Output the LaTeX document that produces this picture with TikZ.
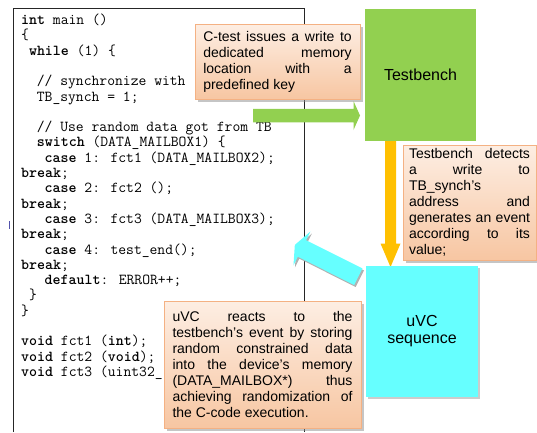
\documentclass[tikz,border=0pt]{standalone}
\usepackage{fontspec}
\usetikzlibrary{shadows}

\newfontfamily\notefont{Liberation Sans}[Ligatures={TeX,NoCommon}]

\definecolor{tbgreen}{RGB}{146,208,80}
\definecolor{uvccyan}{RGB}{102,255,255}
\definecolor{flowgold}{RGB}{255,192,0}
\definecolor{noteline}{RGB}{244,177,131}
\definecolor{notetop}{RGB}{253,238,227}
\definecolor{notebot}{RGB}{247,198,162}

\tolerance=9999
\hbadness=10000

% block arrow: [scope options] fill, tail, angle, length, shaft width, head width, head length
\newcommand\blockarrow[8][]{%
  \begin{scope}[shift={(#3)}, #1, rotate=#4]
    \fill[#2] (0,-#6/2) -- (#5-#8,-#6/2) -- (#5-#8,-#7/2) -- (#5,0)
      -- (#5-#8,#7/2) -- (#5-#8,#6/2) -- (0,#6/2) -- cycle;
  \end{scope}}

\begin{document}
\begin{tikzpicture}[x=1pt, y=-1pt,
    code/.style={font=\ttfamily\fontsize{15.2}{15.3}\selectfont, align=left, inner sep=0pt},
    note/.style={draw=noteline, line width=0.8pt, top color=notetop, bottom color=notebot,
      drop shadow={shadow xshift=2.5pt, shadow yshift=-2.5pt, fill=black!45, opacity=0.5},
      font=\notefont\fontsize{14}{16}\selectfont, align=justify, inner xsep=0pt},
    block/.style={font=\notefont\fontsize{16}{17}\selectfont, align=center, inner sep=0pt}]

  \useasboundingbox (0,0) rectangle (537,432);

  % code window
  \draw[black!85, line width=0.8pt] (13,432) -- (13,8) -- (304,8) -- (304,432);
  \draw[blue!35!gray, line width=0.7pt] (9.3,221) -- (9.3,229);

  % base of the node is the last line of the listing
  \node[code, anchor=base west] (code) at (21,376.4) {%
    \textbf{int} main ()\\
    \{\\
    ~\textbf{while} (1) \{\\
    \\
    ~~// synchronize with\\
    ~~TB\_synch = 1;\\
    \\
    ~~// Use random data got from TB\\
    ~~\textbf{switch} (DATA\_MAILBOX1) \{\\
    ~~~\textbf{case} 1: fct1 (DATA\_MAILBOX2);\\
    \textbf{break};\\
    ~~~\textbf{case} 2: fct2 ();\\
    \textbf{break};\\
    ~~~\textbf{case} 3: fct3 (DATA\_MAILBOX3);\\
    \textbf{break};\\
    ~~~\textbf{case} 4: test\_end();\\
    \textbf{break};\\
    ~~~\textbf{default}: ERROR++;\\
    ~\}\\
    \}\\
    \\
    \textbf{void} fct1 (\textbf{int});\\
    \textbf{void} fct2 (\textbf{void});\\
    \textbf{void} fct3 (uint32\_};

  % C-test -> Testbench
  \coordinate (code-out) at (253,115.5);
  \blockarrow{tbgreen}{code-out}{0}{107}{13.5}{29}{6.5}

  \node[note, text width=148.5, minimum width=165, minimum height=75] (ctest-note) at (277.5,61.5)
    {C-test issues a write to\linebreak dedicated memory\linebreak location with a\linebreak predefined key};

  \node[block, fill=tbgreen, minimum width=111, minimum height=132] (tb) at (420.5,75) {Testbench};

  % Testbench -> uVC
  \coordinate (tb-out) at (390.5,141);
  \blockarrow{flowgold}{tb-out}{-90}{126}{11}{20}{23.5}

  \node[note, text width=121, minimum width=133, minimum height=115] (tb-note) at (469.5,202.5)
    {Testbench detects\linebreak a write to\linebreak TB\_synch's\linebreak address and\linebreak
     generates an event\linebreak according to its\linebreak value;};

  % uVC -> C-test
  \coordinate (uvc-out) at (358.3,276.7);
  \blockarrow[xshift=1.5, yshift=-2]{black!30}{uvc-out}{153.4}{71}{18.5}{38}{8}
  \blockarrow{uvccyan}{uvc-out}{153.4}{71}{18.5}{38}{8}

  \node[block, fill=uvccyan, minimum width=112, minimum height=131,
    drop shadow={shadow xshift=1.5pt, shadow yshift=-2pt, fill=black!40, opacity=0.5}] (uvc) at (422,331.5)
    {uVC\\sequence};

  \node[note, text width=180, minimum width=197, minimum height=127] (uvc-note) at (262.5,364.5)
    {uVC reacts to the\linebreak testbench's event by storing\linebreak random constrained data\linebreak
     into the device's memory\linebreak (DATA\_MAILBOX*) thus\linebreak achieving randomization of\linebreak
     the C-code execution.\par\vspace*{11pt}};

\end{tikzpicture}
\end{document}
